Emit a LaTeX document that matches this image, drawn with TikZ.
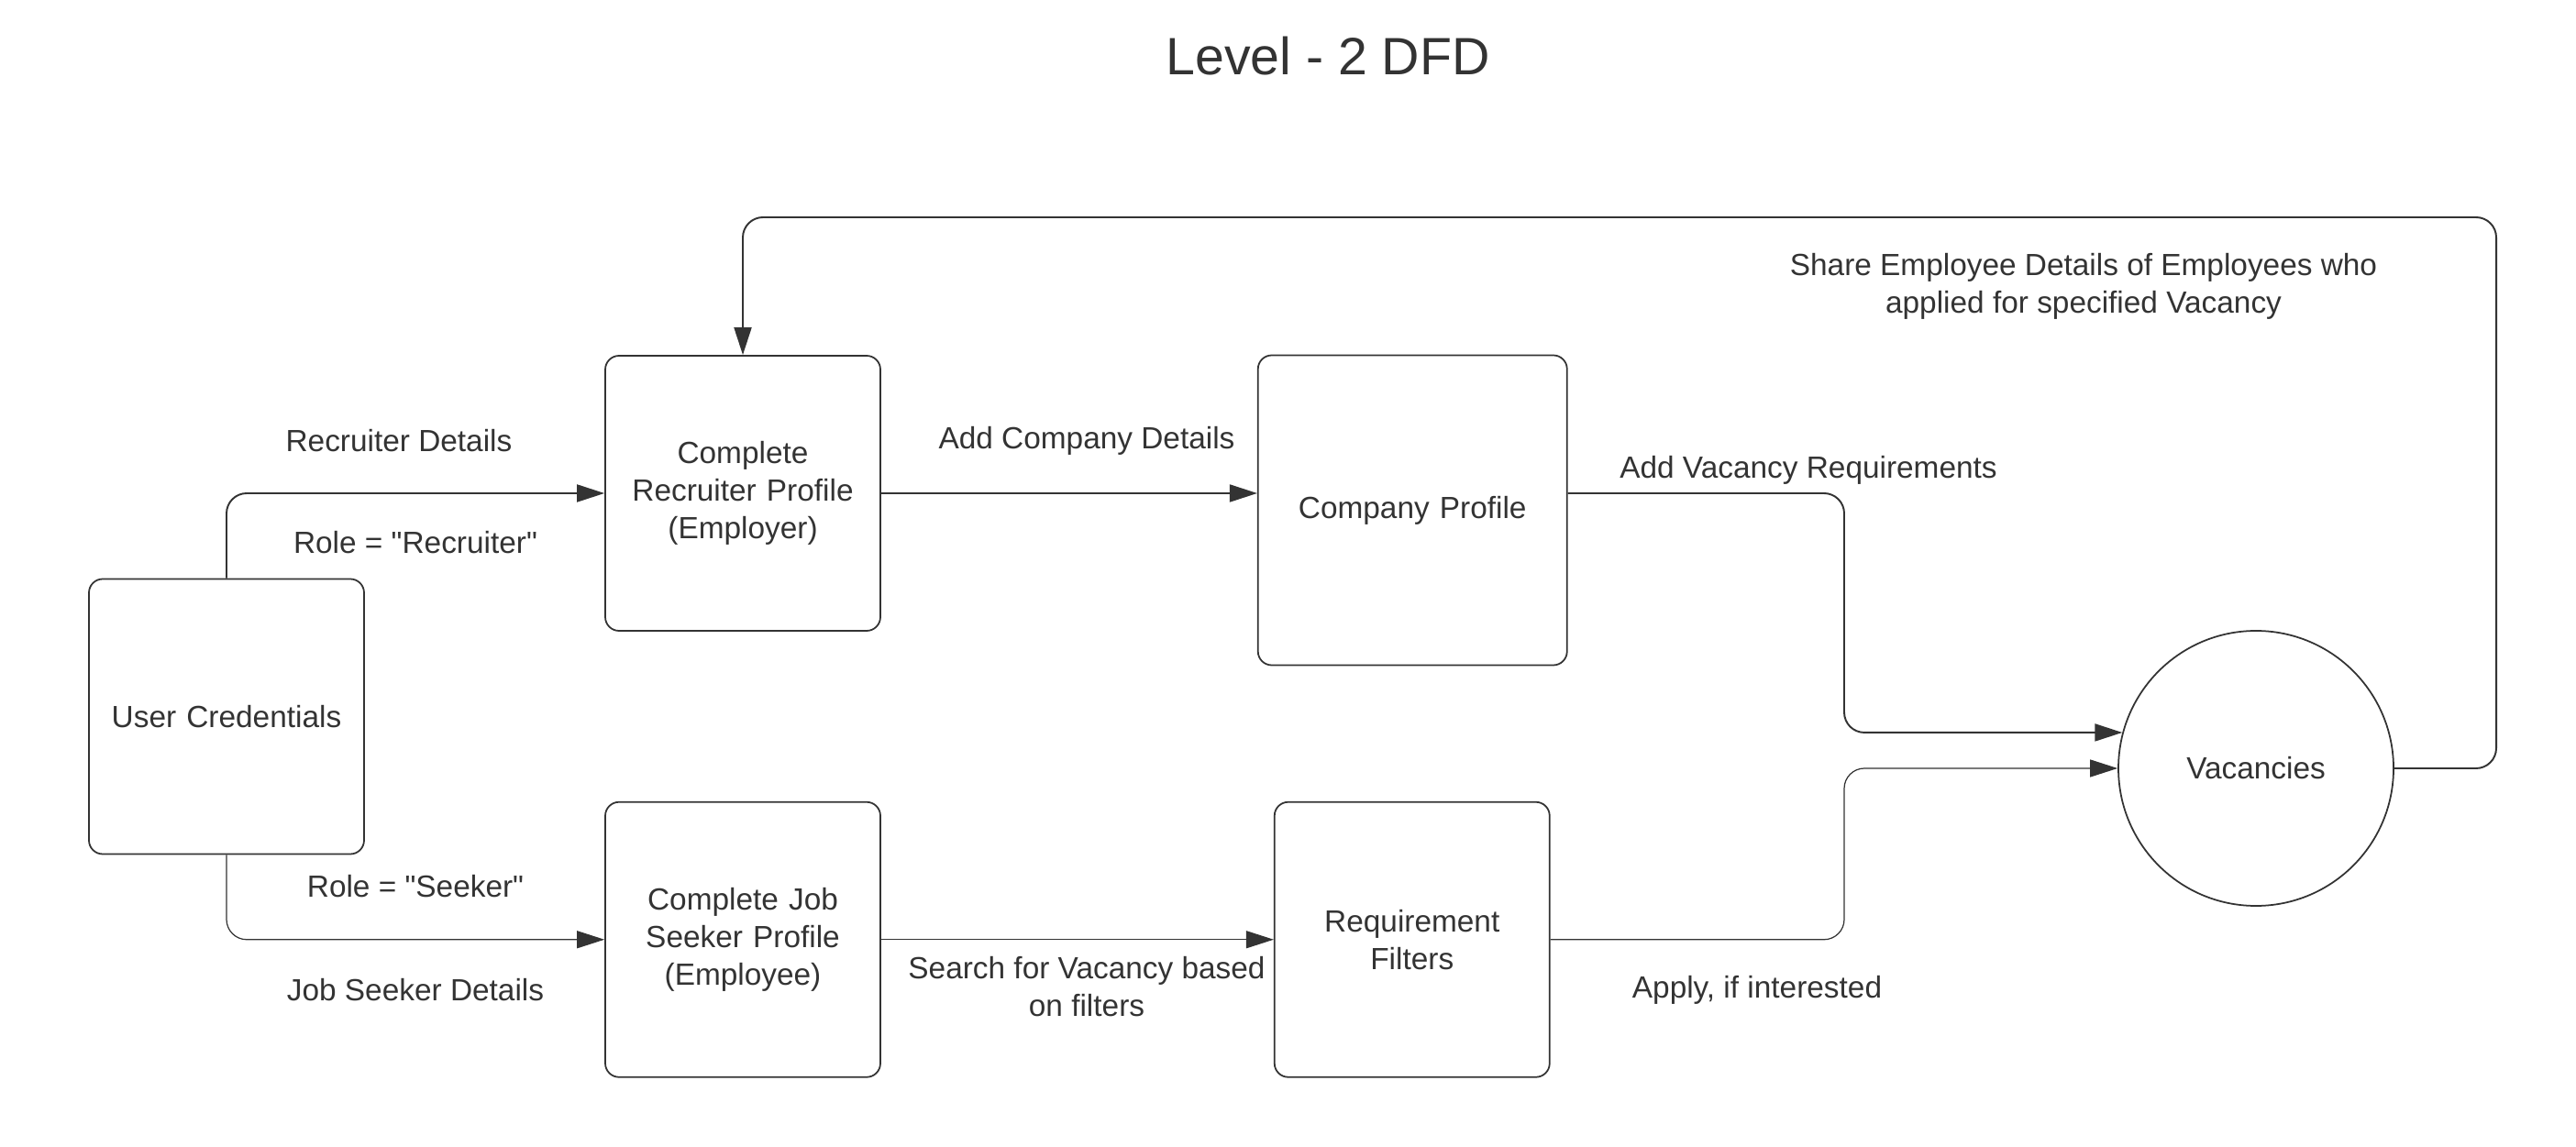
\documentclass[tikz,border=0pt]{standalone}
\usepackage{fontspec}
\setmainfont{Liberation Sans}
\usepackage{tikz}
\usetikzlibrary{positioning}
\usetikzlibrary{arrows.meta}
\definecolor{ink}{HTML}{333333}

\begin{document}
\begin{tikzpicture}[
        font=\fontsize{9.5}{11.7}\selectfont,
        every node/.style={text=ink},
        process/.style={rectangle, draw=ink, line width=0.5pt, text width=2.7cm, align=center, minimum width=3cm, minimum height=3cm, rounded corners=0.15cm},
        store/.style={circle, draw=ink, line width=0.5pt, minimum size=3cm},
        flowlabel/.style={align=center},
        arrow/.style={draw=ink, line width=0.55pt, rounded corners=0.22cm, -{Triangle[length=3mm, width=1.9mm]}},
        thinarrow/.style={arrow, line width=0.35pt}
    ]
        \useasboundingbox (0,0) rectangle (28.09,-12.51);

        % Titel
        \node (title) at (14.48,-0.61) {\fontsize{16.3}{19}\selectfont Level - 2 DFD};

        % Prozesse
        \node[process] (ucred) at (2.47,-7.815) {User Credentials};
        \node[process] (rec) at (8.10,-5.38) {Complete\\Recruiter Profile\\(Employer)};
        \node[process] (seek) [below=1.85cm of rec] {Complete Job\\Seeker Profile\\(Employee)};
        \node[process, minimum width=3.37cm, minimum height=3.38cm] (comp) [right=4.10cm of rec, yshift=-0.185cm] {Company Profile};
        \node[process] (filt) [right=4.28cm of seek] {Requirement\\Filters};
        \node[store] (vac) at (24.60,-8.38) {Vacancies};

        % Beschriftungen
        \node[flowlabel] (lrecdet) at (4.35,-4.81) {Recruiter Details};
        \node[flowlabel] (lrolerec) at (4.53,-5.92) {Role = \textquotedbl Recruiter\textquotedbl};
        \node[flowlabel] (lroleseek) at (4.53,-9.67) {Role = \textquotedbl Seeker\textquotedbl};
        \node[flowlabel] (lseekdet) at (4.53,-10.80) {Job Seeker Details};
        \node[flowlabel] (lcomp) at (11.85,-4.81) {Add Company Details};
        \node[flowlabel] (lsearch) at (11.85,-10.765) {Search for Vacancy based\\on filters};
        \node[flowlabel] (lvacreq) at (19.72,-5.125) {Add Vacancy Requirements};
        \node[flowlabel] (lapply) at (19.16,-10.80) {Apply, if interested};
        \node[flowlabel] (lshare) at (22.72,-3.125) {Share Employee Details of Employees who\\applied for specified Vacancy};

        % Hilfspunkte
        \coordinate (merge) at (20.11,-8.38);
        \coordinate (loop) at (27.22,-2.37);

        % Verbindungen
        \draw[arrow] (ucred.north) |- (rec.west);
        \draw[thinarrow] (ucred.south) |- (seek.west);
        \draw[arrow] (rec.east) -- (rec.east -| comp.west);
        \draw[thinarrow] (seek.east) -- (filt.west);
        \draw[arrow] (rec.east -| comp.east) -| (merge |- vac.165.7) -- (vac.165.7);
        \draw[thinarrow] (filt.east) -| (merge |- vac.west) -- (vac.west);
        \draw[arrow] (vac.east) -| (loop) -| (rec.north);
    \end{tikzpicture}
\end{document}
